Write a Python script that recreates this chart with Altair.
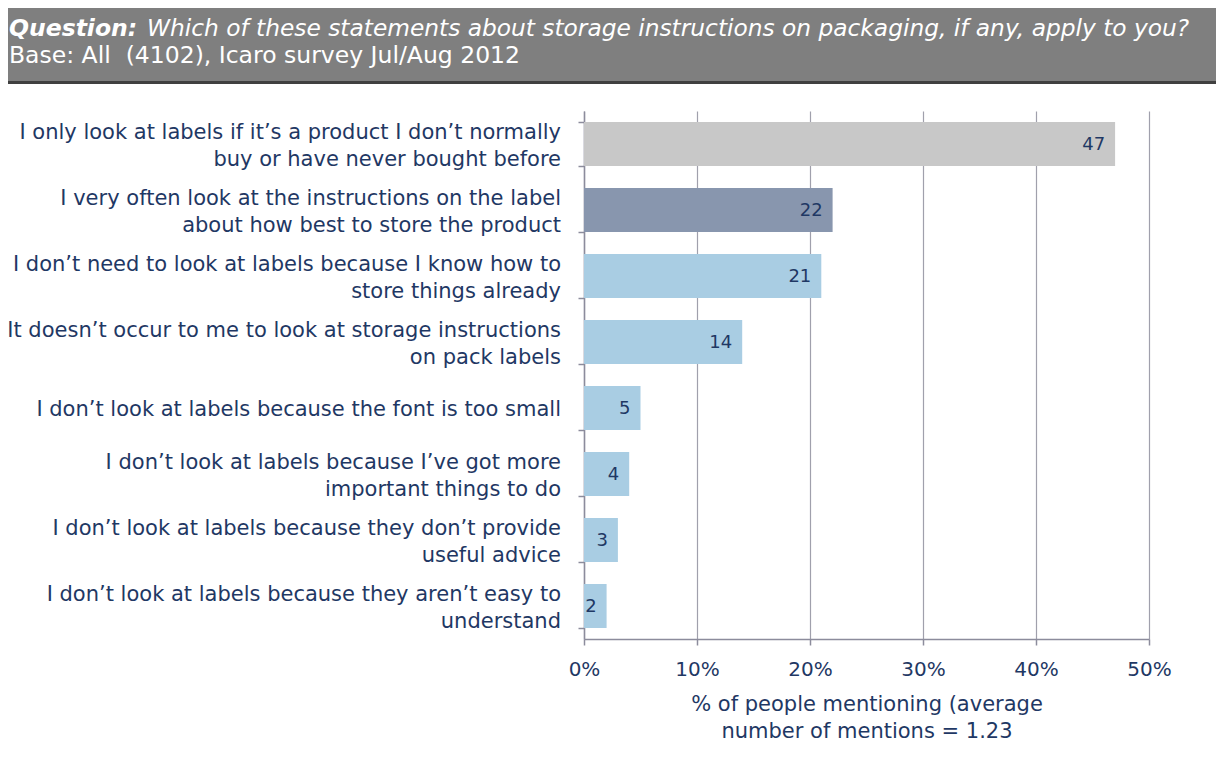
import altair as alt
import pandas as pd

categories = [
    "I only look at labels if it’s a product I don’t normally|buy or have never bought before",
    "I very often look at the instructions on the label|about how best to store the product",
    "I don’t need to look at labels because I know how to|store things already",
    "It doesn’t occur to me to look at storage instructions|on pack labels",
    "I don’t look at labels because the font is too small",
    "I don’t look at labels because I’ve got more|important things to do",
    "I don’t look at labels because they don’t provide|useful advice",
    "I don’t look at labels because they aren’t easy to|understand",
]
values = [47, 22, 21, 14, 5, 4, 3, 2]
bar_colors = ["#C8C8C8", "#8896AE", "#A9CDE3", "#A9CDE3", "#A9CDE3", "#A9CDE3", "#A9CDE3", "#A9CDE3"]
tick_values = [0, 10, 20, 30, 40, 50]
x_title = ["% of people mentioning (average", "number of mentions = 1.23"]
question_label = "Question:"
question_text = "Which of these statements about storage instructions on packaging, if any, apply to you?"
base_text = "Base: All\u00a0 (4102), Icaro survey Jul/Aug 2012"

NAVY = "#1F3864"
FONT = "DejaVu Sans"

df = pd.DataFrame({"label": categories, "value": values, "color": bar_colors})
df["l1"] = [c.split("|")[0] for c in categories]
df["l2"] = [c.split("|")[1] if "|" in c else "" for c in categories]
df["two"] = ["|" in c for c in categories]

y_enc = alt.Y(
    "label:N",
    sort=categories,
    scale=alt.Scale(paddingInner=0.33, paddingOuter=0.165),
    axis=alt.Axis(title=None, labels=False, tickBand="extent", tickSize=6),
)
x_enc = alt.X(
    "value:Q",
    scale=alt.Scale(domain=[0, 50]),
    axis=alt.Axis(
        values=tick_values,
        labelExpr="datum.value + '%'",
        labelFlush=False,
        grid=True,
        title=x_title,
        titleLineHeight=27,
        titlePadding=14,
        labelPadding=14,
        tickSize=6,
        labelFontSize=20,
        titleFontSize=21,
    ),
)
y_plain = alt.Y("label:N", sort=categories)

base = alt.Chart(df)
bars = base.mark_bar().encode(
    x=x_enc,
    y=y_enc,
    color=alt.Color("color:N", scale=None),
)
values_text = base.mark_text(align="right", dx=-10, dy=1, baseline="middle", color=NAVY, fontSize=18, font=FONT).encode(
    x="value:Q",
    y=y_plain,
    text="value:Q",
)

lab_style = dict(align="right", baseline="middle", color=NAVY, fontSize=21, font=FONT)
lab_first = base.transform_filter("datum.two").mark_text(dy=-11.5, **lab_style).encode(
    x=alt.value(-23), y=y_plain, text="l1:N"
)
lab_second = base.transform_filter("datum.two").mark_text(dy=15.5, **lab_style).encode(
    x=alt.value(-23), y=y_plain, text="l2:N"
)
lab_single = base.transform_filter("!datum.two").mark_text(dy=2, **lab_style).encode(
    x=alt.value(-23), y=y_plain, text="l1:N"
)

one = pd.DataFrame({"k": [0]})
hdr = alt.Chart(one).mark_rect(color="#7F7F7F").encode(
    x=alt.value(-590), x2=alt.value(650), y=alt.value(-110), y2=alt.value(-29)
)
hdr_bottom = alt.Chart(one).mark_rect(color="#404040").encode(
    x=alt.value(-590), x2=alt.value(650), y=alt.value(-30), y2=alt.value(-27)
)
q_bold = alt.Chart(one).mark_text(
    align="left", baseline="alphabetic", font=FONT, fontSize=23.5, fontWeight="bold", fontStyle="italic", color="white"
).encode(x=alt.value(-575), y=alt.value(-75), text=alt.value(question_label))
q_text = alt.Chart(one).mark_text(
    align="left", baseline="alphabetic", font=FONT, fontSize=23.3, fontStyle="italic", color="white"
).encode(x=alt.value(-437), y=alt.value(-75), text=alt.value(question_text))
b_text = alt.Chart(one).mark_text(
    align="left", baseline="alphabetic", font=FONT, fontSize=23.5, color="white"
).encode(x=alt.value(-575), y=alt.value(-48), text=alt.value(base_text))

chart = alt.layer(
    hdr, hdr_bottom, q_bold, q_text, b_text, bars, values_text, lab_first, lab_second, lab_single
).properties(
    width=565,
    height=528,
    autosize=alt.AutoSizeParams(type="none"),
    padding={"left": 576, "top": 103, "right": 67, "bottom": 120},
    background="white",
).configure_view(stroke=None).configure_axis(
    labelFont=FONT,
    labelColor=NAVY,
    titleFont=FONT,
    titleColor=NAVY,
    titleFontWeight="normal",
    domainColor="#8C8C9C",
    domainWidth=1.5,
    tickColor="#8C8C9C",
    tickWidth=1.5,
    gridColor="#A0A0AC",
    gridWidth=1.2,
)

chart.save("out.html", embed_options={"renderer": "svg", "actions": False})
